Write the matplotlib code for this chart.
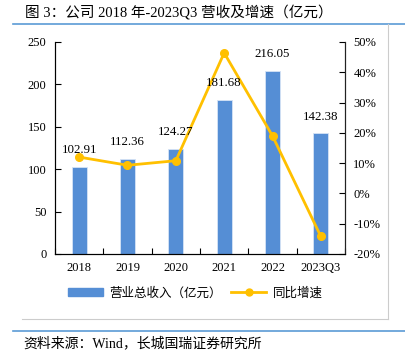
import matplotlib
matplotlib.use("Agg")
import matplotlib.pyplot as plt
from matplotlib.lines import Line2D
from matplotlib.patches import Patch
import matplotlib.ticker as mticker

plt.rcParams['font.family'] = ['Liberation Serif', 'Noto Sans CJK SC', 'DejaVu Sans']

categories = ['2018', '2019', '2020', '2021', '2022', '2023Q3']
revenue = [102.91, 112.36, 124.27, 181.68, 216.05, 142.38]
growth = [12.0, 9.3, 10.8, 46.4, 19.0, -14.2]  # percent
left_ticks = [0, 50, 100, 150, 200, 250]
right_ticks = [-20, -10, 0, 10, 20, 30, 40, 50]

bar_color = '#558ED5'
line_color = '#FFC000'

W, H = 405, 356
fig = plt.figure(figsize=(W / 100, H / 100), dpi=100)

# Title and decorations
fig.text(25 / W, 1 - 12 / H, '图 3：公司 2018 年-2023Q3 营收及增速（亿元）', fontsize=10.5,
         ha='left', va='center', color='black')
fig.add_artist(Line2D([13 / W, 1.0], [1 - 23.5 / H, 1 - 23.5 / H], color='#5B9BD5', lw=1.2,
                      transform=fig.transFigure))
fig.add_artist(Line2D([22 / W, 388 / W], [1 - 319 / H, 1 - 319 / H], color='#CCCCCC', lw=0.8,
                      transform=fig.transFigure))
fig.add_artist(Line2D([388 / W, 388 / W], [1 - 24 / H, 1 - 319 / H], color='#CCCCCC', lw=0.8,
                      transform=fig.transFigure))
fig.add_artist(Line2D([13 / W, 1.0], [1 - 331 / H, 1 - 331 / H], color='#5B9BD5', lw=1.2,
                      transform=fig.transFigure))
fig.text(23 / W, 1 - 343 / H, '资料来源：Wind，长城国瑞证券研究所', fontsize=10,
         ha='left', va='center', color='black')

ax = fig.add_axes([55 / W, 1 - 254 / H, 290 / W, 212 / H])
x = list(range(len(categories)))
ax.bar(x, revenue, width=0.31, color=bar_color, edgecolor='#D6E3F5', linewidth=0.6, zorder=2)
ax.set_xlim(-0.5, len(categories) - 0.5)
ax.set_ylim(0, 250)
ax.set_yticks(left_ticks)
ax.set_xticks(x)
ax.set_xticklabels(categories)
ax.xaxis.set_minor_locator(mticker.FixedLocator([i + 0.5 for i in range(-1, len(categories))]))
ax.tick_params(axis='x', which='major', length=0, pad=6, labelsize=9)
ax.tick_params(axis='x', which='minor', length=4, direction='in', width=0.8)
ax.tick_params(axis='y', direction='in', length=4, width=0.8, labelsize=9, pad=6)
ax.spines['top'].set_visible(False)
for s in ['left', 'bottom', 'right']:
    ax.spines[s].set_linewidth(0.8)
    ax.spines[s].set_color('#222222')

ax2 = ax.twinx()
ax2.plot(x, [g / 100 for g in growth], color=line_color, lw=2, marker='o', markersize=5.5, zorder=3)
ax2.set_ylim(-0.2, 0.5)
ax2.set_yticks([t / 100 for t in right_ticks])
ax2.yaxis.set_major_formatter(mticker.FuncFormatter(lambda v, p: f'{round(v * 100):d}%'))
ax2.tick_params(axis='y', direction='in', length=4, width=0.8, labelsize=9, pad=6)
ax2.spines['top'].set_visible(False)
ax2.spines['right'].set_linewidth(0.8)
ax2.spines['right'].set_color('#222222')

for xi, v in zip(x, revenue):
    ax2.annotate(f'{v:.2f}', xy=(xi, v), xycoords=ax.transData, xytext=(0, 12),
                 textcoords='offset points', ha='center', va='center', fontsize=9.3, zorder=5)

handles = [Patch(color=bar_color), Line2D([], [], color=line_color, lw=2, marker='o', markersize=5)]
labels = ['营业总收入（亿元）', '同比增速']
fig.legend(handles, labels, loc='center', bbox_to_anchor=(195 / W, 1 - 293 / H), ncol=2,
           frameon=False, handlelength=2.8, handleheight=0.6, columnspacing=0.8,
           handletextpad=0.5, prop={'family': ['Noto Sans CJK SC'], 'size': 9})

fig.savefig('out.png', dpi=100)
